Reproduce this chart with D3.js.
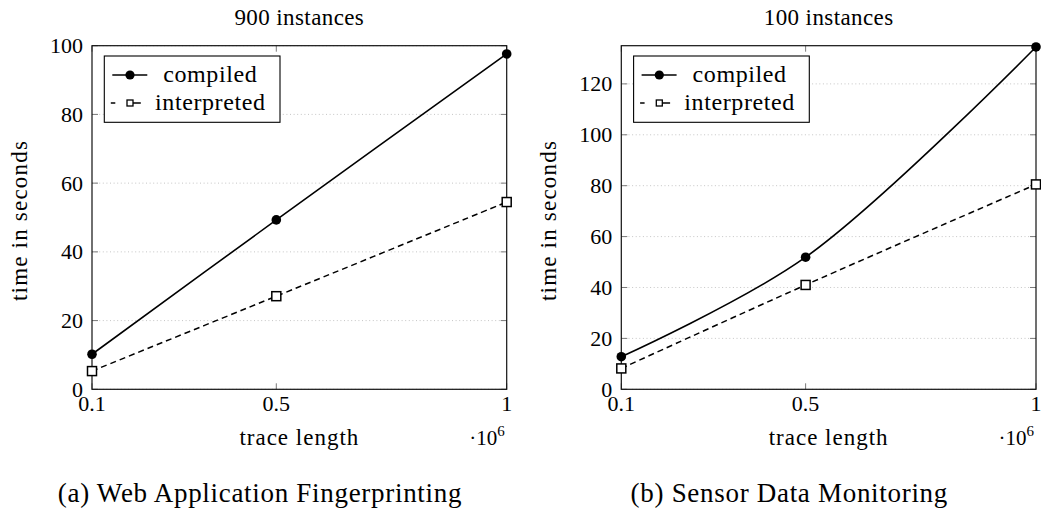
<!DOCTYPE html>
<html>
<head>
<meta charset="utf-8">
<script src="https://cdn.jsdelivr.net/npm/d3@7"></script>
<style>
  body { margin: 0; background: #fff; }
  svg text { font-family: "Liberation Serif", "Times New Roman", serif; fill: #000; }
</style>
</head>
<body>
<svg id="chart" width="1041" height="513"></svg>
<script>
// Values
var traceLengths = [0.1, 0.5, 1];
var xTickValues = [0.1, 0.5, 1];
var seriesNames = ["compiled", "interpreted"];

var webCompiled = [10.2, 49.3, 97.6];
var webInterpreted = [5.3, 27.1, 54.5];
var webYTicks = [0, 20, 40, 60, 80, 100];

var sensorCompiled = [12.8, 51.9, 134.5];
var sensorInterpreted = [8.2, 41.0, 80.5];
var sensorYTicks = [0, 20, 40, 60, 80, 100, 120];

var panelTitles = ["900 instances", "100 instances"];
var panelCaptions = ["(a) Web Application Fingerprinting", "(b) Sensor Data Monitoring"];
var yMaxes = [100, 135];

var svg = d3.select("#chart");

var plotTop = 45.7, plotBottom = 389.3;
var plotWidth = 414.7;
var plotLefts = [92, 621.3];

function drawPanel(i, compiled, interpreted, yTicks) {
    var left = plotLefts[i];
    var g = svg.append("g");

    var x = d3.scaleLinear().domain([0.1, 1]).range([left, left + plotWidth]);
    var y = d3.scaleLinear().domain([0, yMaxes[i]]).range([plotBottom, plotTop]);

    // dotted horizontal grid
    g.selectAll("line.grid")
        .data(yTicks)
        .enter()
        .append("line")
        .attr("x1", x(0.1)).attr("x2", x(1))
        .attr("y1", function (d) { return y(d); })
        .attr("y2", function (d) { return y(d); })
        .style("stroke", "#b8b8b8")
        .style("stroke-width", 0.8)
        .style("stroke-dasharray", "1 2.6");

    // small inward ticks on all four sides
    var tickLen = 6;
    yTicks.forEach(function (d) {
        g.append("line").attr("x1", x(0.1)).attr("x2", x(0.1) + tickLen)
            .attr("y1", y(d)).attr("y2", y(d)).style("stroke", "#7a7a7a");
        g.append("line").attr("x1", x(1)).attr("x2", x(1) - tickLen)
            .attr("y1", y(d)).attr("y2", y(d)).style("stroke", "#7a7a7a");
    });
    xTickValues.forEach(function (d) {
        g.append("line").attr("x1", x(d)).attr("x2", x(d))
            .attr("y1", plotBottom).attr("y2", plotBottom - tickLen).style("stroke", "#7a7a7a");
        g.append("line").attr("x1", x(d)).attr("x2", x(d))
            .attr("y1", plotTop).attr("y2", plotTop + tickLen).style("stroke", "#7a7a7a");
    });

    // frame
    g.append("rect")
        .attr("x", x(0.1)).attr("y", plotTop)
        .attr("width", plotWidth).attr("height", plotBottom - plotTop)
        .style("fill", "none")
        .style("stroke", "#111")
        .style("stroke-width", 1.2);

    // tick labels
    g.selectAll("text.ytick")
        .data(yTicks)
        .enter()
        .append("text")
        .attr("x", x(0.1) - 9)
        .attr("y", function (d) { return y(d) + 7.5; })
        .attr("text-anchor", "end")
        .style("font-size", "22px")
        .text(function (d) { return d; });

    g.selectAll("text.xtick")
        .data(xTickValues)
        .enter()
        .append("text")
        .attr("x", function (d) { return x(d); })
        .attr("y", plotBottom + 22)
        .attr("text-anchor", "middle")
        .style("font-size", "22px")
        .text(function (d) { return d; });

    // series
    var line = d3.line()
        .x(function (d, k) { return x(traceLengths[k]); })
        .y(function (d) { return y(d); })
        .curve(d3.curveCatmullRom);

    g.append("path").datum(interpreted)
        .attr("d", line)
        .style("fill", "none").style("stroke", "#000")
        .style("stroke-width", 1.5)
        .style("stroke-dasharray", "6 4");

    g.append("path").datum(compiled)
        .attr("d", line)
        .style("fill", "none").style("stroke", "#000")
        .style("stroke-width", 1.6);

    g.selectAll("rect.sq")
        .data(interpreted)
        .enter()
        .append("rect")
        .attr("x", function (d, k) { return x(traceLengths[k]) - 4.5; })
        .attr("y", function (d) { return y(d) - 4.5; })
        .attr("width", 9).attr("height", 9)
        .style("fill", "#fff").style("stroke", "#000").style("stroke-width", 1.5);

    g.selectAll("circle.dot")
        .data(compiled)
        .enter()
        .append("circle")
        .attr("cx", function (d, k) { return x(traceLengths[k]); })
        .attr("cy", function (d) { return y(d); })
        .attr("r", 4.8)
        .style("fill", "#000");

    // title, axis labels, caption
    var cx = left + plotWidth / 2;
    g.append("text").attr("x", cx).attr("y", 25)
        .attr("text-anchor", "middle")
        .style("font-size", "23px").style("letter-spacing", "0.4px")
        .text(panelTitles[i]);

    g.append("text").attr("x", cx).attr("y", 445)
        .attr("text-anchor", "middle")
        .style("font-size", "23px").style("letter-spacing", "1px")
        .text("trace length");

    var mult = g.append("text").attr("x", left + plotWidth - 2).attr("y", 445)
        .attr("text-anchor", "end")
        .style("font-size", "21px");
    mult.append("tspan").text("\u00b710");
    mult.append("tspan").attr("dy", -9).style("font-size", "15px").text("6");

    g.append("text")
        .attr("transform", "translate(" + (left - 65) + "," + ((plotTop + plotBottom) / 2 + 3) + ") rotate(-90)")
        .attr("text-anchor", "middle")
        .style("font-size", "23px").style("letter-spacing", "1.2px")
        .text("time in seconds");

    g.append("text").attr("x", left + 168).attr("y", 502)
        .attr("text-anchor", "middle")
        .style("font-size", "27px").style("letter-spacing", "0.7px")
        .text(panelCaptions[i]);

    // legend
    var lx = left + 12.3, ly = plotTop + 10.3;
    var lg = g.append("g").attr("transform", "translate(" + lx + "," + ly + ")");
    lg.append("rect").attr("width", 175.7).attr("height", 66.3)
        .style("fill", "#fff").style("stroke", "#000").style("stroke-width", 1.1);

    lg.append("line").attr("x1", 8).attr("x2", 43).attr("y1", 19).attr("y2", 19)
        .style("stroke", "#000").style("stroke-width", 1.6);
    lg.append("circle").attr("cx", 25.7).attr("cy", 19).attr("r", 4.6).style("fill", "#000");

    lg.append("line").attr("x1", 6.5).attr("x2", 11).attr("y1", 47).attr("y2", 47)
        .style("stroke", "#000").style("stroke-width", 1.5);
    lg.append("line").attr("x1", 26).attr("x2", 36.5).attr("y1", 47).attr("y2", 47)
        .style("stroke", "#000").style("stroke-width", 1.5);
    lg.append("rect").attr("x", 22.7).attr("y", 44).attr("width", 6).attr("height", 6)
        .style("fill", "#fff").style("stroke", "#000").style("stroke-width", 1.3);

    lg.selectAll("text.leg")
        .data(seriesNames)
        .enter()
        .append("text")
        .attr("x", 106)
        .attr("y", function (d, k) { return 26 + k * 28; })
        .attr("text-anchor", "middle")
        .style("font-size", "24px").style("letter-spacing", "0.6px")
        .text(function (d) { return d; });
}

drawPanel(0, webCompiled, webInterpreted, webYTicks);
drawPanel(1, sensorCompiled, sensorInterpreted, sensorYTicks);
</script>
</body>
</html>
